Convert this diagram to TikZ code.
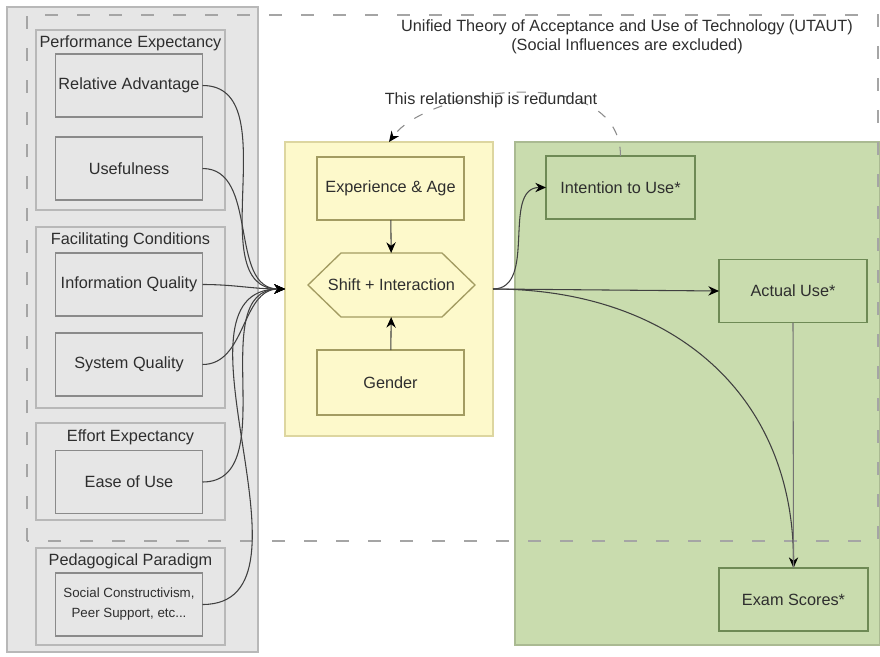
\documentclass[tikz,border=0pt]{standalone}
\usepackage{fontspec}
\setmainfont{Liberation Sans}
\usetikzlibrary{arrows.meta}
\definecolor{panelgray}{HTML}{E6E6E6}
\definecolor{linegray}{HTML}{B8B8B8}
\definecolor{boxgray}{HTML}{8A8A8A}
\definecolor{yelfill}{HTML}{FDF9CB}
\definecolor{yelline}{HTML}{DDD6A0}
\definecolor{yelbox}{HTML}{A39C62}
\definecolor{grnfill}{HTML}{C9DCAE}
\definecolor{grnline}{HTML}{AABA92}
\definecolor{grnbox}{HTML}{6E8A55}
\definecolor{txt}{HTML}{2E2E2E}
\def\px{0.75pt}
\begin{document}
\begin{tikzpicture}[x=0.75pt,y=-0.75pt,>={Stealth[length=8pt,width=7pt,black]},
  every node/.style={inner sep=0pt,outer sep=0pt,text=txt,font=\fontsize{12.2}{14.5}\selectfont},
  panel/.style={draw=#1,line width=1pt},
  grp/.style={draw=linegray,line width=1pt,fill=panelgray},
  box/.style={draw=#1,line width=1pt,minimum width=147*\px,minimum height=63*\px},
  box/.default=boxgray,
  link/.style={draw=black!75,line width=0.8pt}]
\useasboundingbox (0,0) rectangle (880,656);
% the three panels
\node[panel=linegray,fill=panelgray,minimum width=251*\px,minimum height=645*\px] (left) at (132.5,329.5) {};
\node[panel=yelline,fill=yelfill,minimum width=208*\px,minimum height=294*\px] (yel) at (389,289) {};
\node[panel=grnline,fill=grnfill,minimum width=365*\px,minimum height=503*\px] (grn) at (697.5,393.5) {};
% UTAUT frame
\draw[linegray!90!black,line width=1.6pt,dash pattern=on 10pt off 14pt] (27,541) -- (27,15) -- (878,15) -- (878,541) -- cycle;
\node (title) at (627,37) [align=center] {Unified Theory of Acceptance and Use of Technology (UTAUT)\\(Social Influences are excluded)};
% groups on the left
\node[grp,minimum width=189*\px,minimum height=180*\px] (pe) at (130.5,120) {};
\node[grp,minimum width=189*\px,minimum height=181*\px] (fc) at (130.5,317.5) {};
\node[grp,minimum width=189*\px,minimum height=97*\px] (ee) at (130.5,471.5) {};
\node[grp,minimum width=189*\px,minimum height=97*\px] (pp) at (130.5,596.5) {};
\node[below=4pt] at (pe.north) {Performance Expectancy};
\node[below=4pt] at (fc.north) {Facilitating Conditions};
\node[below=5pt] at (ee.north) {Effort Expectancy};
\node[below=4pt] at (pp.north) {Pedagogical Paradigm};
\node[box,fill=panelgray] (ra) at (129,85.5) {Relative Advantage};
\node[box,fill=panelgray] (use) at (129,168.5) {Usefulness};
\node[box,fill=panelgray] (iq) at (129,284.5) {Information Quality};
\node[box,fill=panelgray] (sq) at (129,364.5) {System Quality};
\node[box,fill=panelgray] (eou) at (129,482) {Ease of Use};
\node[box,fill=panelgray,align=center,font=\fontsize{10}{15}\selectfont] (sc) at (129,604.5) {Social Constructivism,\\Peer Support, etc...};
% moderators
\node[box=yelbox] (exp) at (390.5,188.5) {Experience \& Age};
\def\hexpath{++(-83.5,0) -- ++(33,-32) -- ++(101,0) -- ++(33,32) -- ++(-33,32) -- ++(-101,0) -- cycle}
\draw[yelbox,line width=1pt] (391.5,285) \hexpath;
\node[minimum width=167*\px,minimum height=64*\px] (hex) at (391.5,285) {Shift + Interaction};
\node[box=yelbox,minimum height=65*\px] (gen) at (390.5,382.5) {Gender};
% outcomes
\node[box=grnbox,minimum width=149*\px] (int) at (620.5,187.5) {Intention to Use*};
\node[box=grnbox,minimum width=148*\px] (act) at (793,291) {Actual Use*};
\node[box=grnbox,minimum width=149*\px] (exs) at (793.5,599.5) {Exam Scores*};
% links
\foreach \n in {ra,use,iq,sq,eou,sc}
  \draw[link,->] (\n.east) to[out=0,in=180] (yel.west);
\draw[link,->] (exp) -- (hex);
\draw[link,->] (gen) -- (hex);
\draw[link,->] (yel.east) to[out=0,in=180] (int.west);
\draw[link,->] (yel.east) -- (act.west);
\draw[link,->] (yel.east) to[out=0,in=90,looseness=1.1] (exs.north);
\draw[link,draw=black!55] (act.south) -- (exs.north);
\draw[link,draw=black!45,dash pattern=on 7pt off 9pt,->] (int.north) .. controls +(0,-95) and +(40,-55) .. (yel.north);
\node (note) at (491,100) {This relationship is redundant};
\end{tikzpicture}
\end{document}
